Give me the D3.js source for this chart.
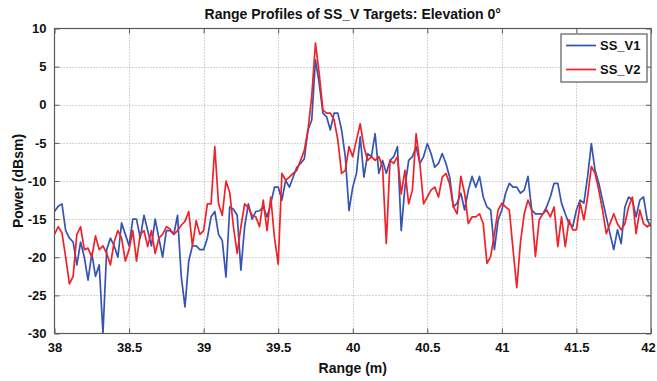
<!DOCTYPE html>
<html><head><meta charset="utf-8">
<script src="https://cdn.jsdelivr.net/npm/d3@7"></script>
<style>
body{margin:0;background:#fff}
svg text{font-family:"Liberation Sans",Arial,Helvetica,sans-serif;font-weight:bold;fill:#111}
</style>
</head><body>
<svg id="chart" width="657" height="381"></svg>
<script>
const titleText = "Range Profiles of SS_V Targets: Elevation 0°";
const xLabelText = "Range (m)";
const yLabelText = "Power (dBsm)";
const seriesNames = ["SS_V1", "SS_V2"];
const xTicks = [38, 38.5, 39, 39.5, 40, 40.5, 41, 41.5, 42];
const xTickLabels = ["38", "38.5", "39", "39.5", "40", "40.5", "41", "41.5", "42"];
const yTicks = [-30, -25, -20, -15, -10, -5, 0, 5, 10];
const yTickLabels = ["-30", "-25", "-20", "-15", "-10", "-5", "0", "5", "10"];
const rangeStart = 38, rangeStep = 0.025;

const powerV1 = [
-14, -13.3, -13, -16.5, -17.5, -18, -21, -18, -20, -23,
-19.5, -22.5, -21, -30, -19, -17.5, -18.5, -20, -15.5, -17,
-18.5, -15, -15, -17.5, -14.5, -16.5, -18.5, -15, -17.5, -20,
-16.5, -16.5, -17, -14.5, -22.5, -26.5, -20.5, -18.5, -18.5, -19,
-19, -17.5, -14.7, -14, -17, -17.8, -22.6, -13.4, -13.7, -14.5,
-21.7, -16, -13, -15,
-14, -13.9, -13.4, -14.7, -13, -10.8,
-10.8, -12.5, -9.9, -10.8, -9.5, -8.2, -7.7, -7.1, -3.3, -2,
5.9, 2.8, -1.1, -1.6, -3.3, -1.1, -1.1, -3.3, -6.8, -13.9,
-10.8, -9, -4.2, -9.5, -6.4, -6.8, -3.8, -9, -7.3, -9,
-7.3, -6.8, -5.5, -16.5, -10.8, -7.3, -6.8, -5.5, -7.7, -6.8,
-5.1, -6.4, -8.2, -7.7, -6.4, -7.7, -9.5, -13.4,
-12.9, -11.6, -13.8, -11.2, -9.4, -10.8, -9.4, -12.1, -13.4, -13.8,
-19, -15.1,
-13.8, -11.6, -10.3, -10.8, -10.8, -11.6, -11.2, -9.4, -13.8, -14.3,
-14.3, -14.3, -13.4, -12.1, -10.3, -10.3, -12.9, -14.3, -15.6, -16,
-13.8, -12.5, -12.9, -9.4, -5.1, -8.6, -10.3, -12.5, -14.7, -16.9,
-19, -16.4, -18.2, -13.4, -12.1, -12.5, -14.7, -12.5, -12.1, -15.1,
-16
];

const powerV2 = [
-17, -16, -16.8, -20, -23.5, -22.5, -17, -16, -19, -18.8,
-20, -17.2, -19, -18.5, -19.5, -21, -18, -16.5, -17.5, -20.5,
-19, -16.5, -20.5, -17, -16.5, -18.6, -16.5, -19.5, -17.5, -17,
-16, -16.3, -17, -16.5, -15.8, -15.3, -14, -18.5, -15.2, -17,
-16.5, -13, -13, -5.5, -13, -14.5, -10, -11.5, -16, -19.5,
-16, -13, -13.5, -14.5,
-14.7, -16, -12.5, -16.5, -12.1, -17.4,
-20.9, -9, -9.9, -9.5, -9, -8.6, -7.3, -6, -3.3, 1.1,
8.1, 4.1, -0.7, -1.1, -1.1, -2, -4.6, -9, -8.6, -5.5,
-6.8, -4.6, -2.5, -5.5, -7.3, -6.8, -7.3, -6.8, -8.2, -18.2,
-7.3, -7.7, -6.8, -11.7, -8.6, -13, -11.2, -3.8, -7.7, -13,
-12.1, -11.2, -10.8, -12.1, -9.5, -9, -10.4, -13.4,
-14.3, -9.4, -11.6, -15.6, -14.7, -14.7, -14.3, -15.6, -20.8, -19.9,
-16.9, -13.8,
-12.9, -13.4, -13.8, -19, -24, -18, -14.3, -12.5, -13.8, -19.9,
-15.1, -14.3, -13.8, -14.7, -13.4, -18.6, -14.7, -18.6, -15.1, -16.4,
-16.4, -12.9, -15.1, -12.1, -8.1, -9, -11.2, -13.8, -16.9, -15.6,
-14.3, -15.6, -16.4, -15.6, -13.4, -12.1, -16.9, -13.8, -15.6, -16,
-15.6
];

const seriesColors = ["#3553b3", "#ef2229"];

const svg = d3.select("#chart");
const L = 54.5, R = 651, T = 28.5, B = 333.5;
const x = d3.scaleLinear().domain([38, 42]).range([L, R]);
const y = d3.scaleLinear().domain([-30, 10]).range([B, T]);

// grid
const grid = svg.append("g").attr("stroke", "#a8a8a8").attr("stroke-width", 1).attr("stroke-dasharray", "1,2");
xTicks.slice(1, -1).forEach(t => grid.append("line")
  .attr("x1", Math.round(x(t)) + 0.5).attr("x2", Math.round(x(t)) + 0.5).attr("y1", T).attr("y2", B));
yTicks.slice(1, -1).forEach(t => grid.append("line")
  .attr("y1", Math.round(y(t)) + 0.5).attr("y2", Math.round(y(t)) + 0.5).attr("x1", L).attr("x2", R));

// clip
svg.append("defs").append("clipPath").attr("id", "clip")
  .append("rect").attr("x", L).attr("y", T - 1).attr("width", R - L).attr("height", B - T + 1);

const line = d3.line().x((d, i) => x(rangeStart + i * rangeStep)).y(d => y(d));
const plot = svg.append("g").attr("clip-path", "url(#clip)");
[powerV1, powerV2].forEach((s, k) => {
  plot.append("path").datum(s).attr("d", line)
    .attr("fill", "none").attr("stroke", seriesColors[k]).attr("stroke-width", 1.7)
    .attr("stroke-linejoin", "round");
});

// frame
svg.append("rect").attr("x", L).attr("y", T).attr("width", R - L).attr("height", B - T)
  .attr("fill", "none").attr("stroke", "#5a5a5a").attr("stroke-width", 1.2);

// axes (ticks inside)
const xAxisB = d3.axisBottom(x).tickValues(xTicks).tickFormat((d, i) => xTickLabels[i]).tickSizeInner(-5).tickSizeOuter(0).tickPadding(9);
const gxb = svg.append("g").attr("transform", `translate(0,${B})`).call(xAxisB);
const xAxisT = d3.axisTop(x).tickValues(xTicks).tickFormat("").tickSizeInner(-5).tickSizeOuter(0);
const gxt = svg.append("g").attr("transform", `translate(0,${T})`).call(xAxisT);
const yAxisL = d3.axisLeft(y).tickValues(yTicks).tickFormat((d, i) => yTickLabels[i]).tickSizeInner(-5).tickSizeOuter(0).tickPadding(8);
const gyl = svg.append("g").attr("transform", `translate(${L},0)`).call(yAxisL);
const yAxisR = d3.axisRight(y).tickValues(yTicks).tickFormat("").tickSizeInner(-5).tickSizeOuter(0);
const gyr = svg.append("g").attr("transform", `translate(${R},0)`).call(yAxisR);
[gxb, gxt, gyl, gyr].forEach(g => {
  g.select(".domain").remove();
  g.selectAll(".tick line").attr("stroke", "#5a5a5a");
  g.selectAll("text").attr("font-size", 13).attr("font-family", "Liberation Sans, Arial, sans-serif").attr("font-weight", "bold").attr("fill", "#111");
});
// keep the last x label inside the page
gxb.selectAll(".tick text").filter((d, i) => i === xTicks.length - 1).attr("dx", -3);

// title & labels
svg.append("text").attr("x", (L + R) / 2).attr("y", 19).attr("text-anchor", "middle")
  .attr("font-size", 14).text(titleText);
svg.append("text").attr("x", (L + R) / 2).attr("y", 373).attr("text-anchor", "middle")
  .attr("font-size", 14).text(xLabelText);
svg.append("text").attr("transform", `translate(23,${(T + B) / 2}) rotate(-90)`).attr("text-anchor", "middle")
  .attr("font-size", 14).text(yLabelText);

// legend
const lg = svg.append("g");
lg.append("rect").attr("x", 561).attr("y", 34).attr("width", 86).attr("height", 48)
  .attr("fill", "#fff").attr("stroke", "#5a5a5a").attr("stroke-width", 1.2);
seriesNames.forEach((n, k) => {
  const yy = 45.5 + k * 24;
  lg.append("line").attr("x1", 566).attr("x2", 596).attr("y1", yy).attr("y2", yy)
    .attr("stroke", seriesColors[k]).attr("stroke-width", 1.7);
  lg.append("text").attr("x", 600).attr("y", yy + 4.5).attr("font-size", 13).text(n);
});
</script>
</body></html>
